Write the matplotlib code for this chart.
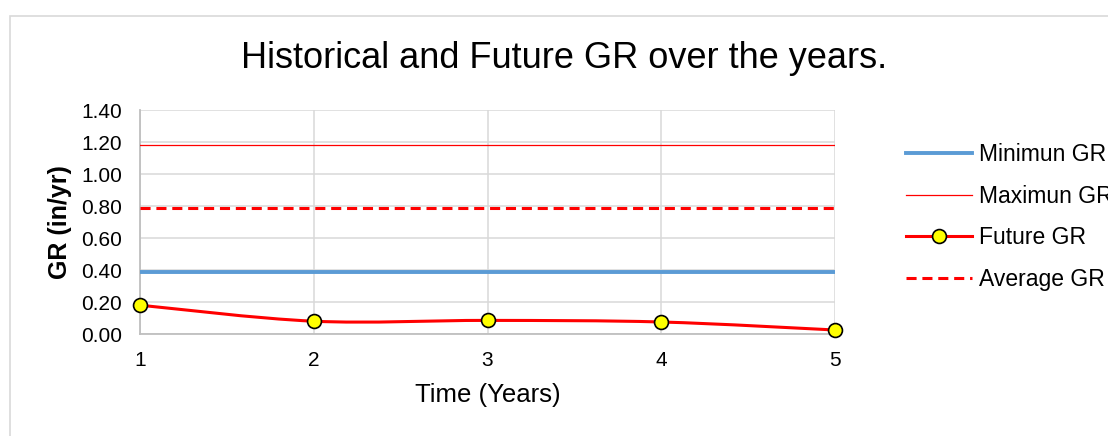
import matplotlib
matplotlib.use("Agg")
import matplotlib.pyplot as plt
from matplotlib.path import Path
from matplotlib.patches import PathPatch, Rectangle
from matplotlib.lines import Line2D
import numpy as np

plt.rcParams['font.family'] = ['Liberation Sans', 'DejaVu Sans']

# Data
years = [1, 2, 3, 4, 5]
future_gr = [0.18, 0.08, 0.085, 0.075, 0.025]
min_gr = 0.39
max_gr = 1.18
avg_gr = 0.79
y_ticks = [0.0, 0.2, 0.4, 0.6, 0.8, 1.0, 1.2, 1.4]

W, H = 1108, 436
fig = plt.figure(figsize=(W / 100, H / 100), dpi=100)

# Chart-area frame
fig.patches.append(Rectangle((10 / W, -0.2), 1.2, 1.2 - 16 / H, transform=fig.transFigure,
                             fill=False, edgecolor='#d9d9d9', linewidth=1.2))

ax = fig.add_axes([140 / W, 1 - 334 / H, 695 / W, 224 / H])
ax.set_xlim(1, 5)
ax.set_ylim(0, 1.4)
ax.set_yticks(y_ticks)
ax.set_yticklabels([f"{v:.2f}" for v in y_ticks])
ax.set_xticks(years)
ax.tick_params(length=0, labelsize=15, colors='black')
ax.tick_params(axis='y', pad=13)
ax.tick_params(axis='x', pad=12)
ax.grid(True, color='#d9d9d9', linewidth=1.1)
ax.set_axisbelow(True)
for side in ('top', 'right'):
    ax.spines[side].set_visible(False)
for side in ('left', 'bottom'):
    ax.spines[side].set_color('#bfbfbf')
    ax.spines[side].set_linewidth(1.3)

blue = '#5b9bd5'
red = '#ff0000'

ax.axhline(min_gr, color=blue, linewidth=2.8, zorder=3)
ax.axhline(max_gr, color=red, linewidth=0.9, zorder=3)
ax.axhline(avg_gr, color=red, linewidth=2.2, linestyle=(0, (3.3, 1.9)), zorder=3)

# Smoothed line through the future values (cubic Bezier, Catmull-Rom tangents)
pts = np.column_stack([years, future_gr]).astype(float)
ext = np.vstack([pts[0], pts, pts[-1]])
verts = [tuple(pts[0])]
codes = [Path.MOVETO]
for i in range(len(pts) - 1):
    p0, p1, p2, p3 = ext[i], ext[i + 1], ext[i + 2], ext[i + 3]
    c1 = p1 + (p2 - p0) / 6.0
    c2 = p2 - (p3 - p1) / 6.0
    verts += [tuple(c1), tuple(c2), tuple(p2)]
    codes += [Path.CURVE4] * 3
ax.add_patch(PathPatch(Path(verts, codes), fill=False, edgecolor=red,
                       linewidth=2.2, zorder=4, clip_on=False))
ax.plot(years, future_gr, linestyle='none', marker='o', markersize=10,
        markerfacecolor='#ffff00', markeredgecolor='black', markeredgewidth=1.2,
        zorder=5, clip_on=False)

ax.set_xlabel('Time (Years)', fontsize=18.5)
ax.xaxis.set_label_coords(0.5, (334 - 395) / 224)
ax.xaxis.label.set_va('center')
ax.set_ylabel('GR (in/yr)', fontsize=18, fontweight='bold')
ax.yaxis.set_label_coords((60 - 140) / 695, 0.5)
ax.yaxis.label.set_va('center')

fig.text(564 / W, 1 - 58 / H, 'Historical and Future GR over the years.',
         ha='center', va='center', fontsize=26)

handles = [
    Line2D([], [], color=blue, linewidth=2.8),
    Line2D([], [], color=red, linewidth=0.9),
    Line2D([], [], color=red, linewidth=2.2, marker='o', markersize=10,
           markerfacecolor='#ffff00', markeredgecolor='black', markeredgewidth=1.2),
    Line2D([], [], color=red, linewidth=2.2, linestyle=(0, (3.3, 1.9))),
]
labels = ['Minimun GR', 'Maximun GR', 'Future GR', 'Average GR']
fig.legend(handles, labels, loc='upper left', bbox_to_anchor=(906 / W, 1 - 143 / H),
           frameon=False, fontsize=16.5, handlelength=2.9, handletextpad=0.3,
           labelspacing=0.81, borderpad=0, borderaxespad=0)

fig.savefig('out.png', dpi=100)
